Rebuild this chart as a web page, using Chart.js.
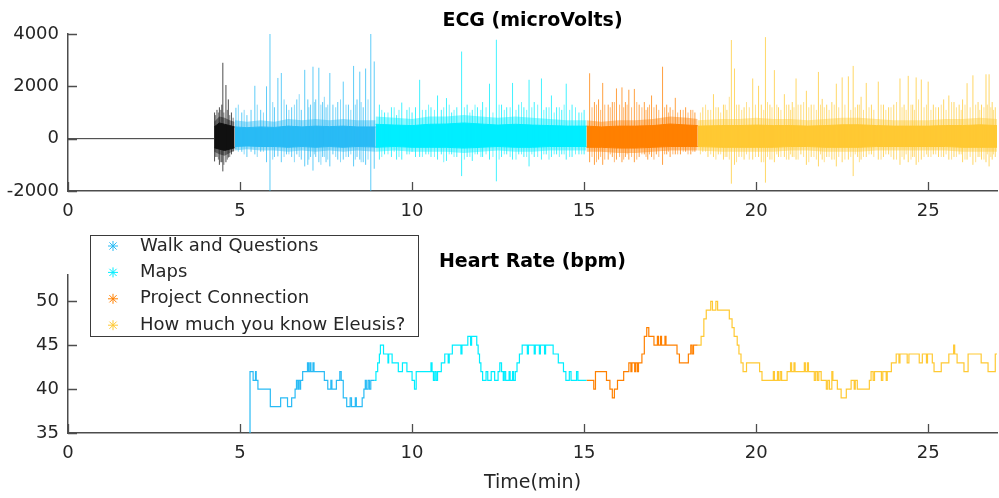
<!DOCTYPE html>
<html>
<head>
<meta charset="utf-8">
<script src="https://cdn.jsdelivr.net/npm/chart.js@4.4.1/dist/chart.umd.min.js"></script>
<style>
  html, body { margin: 0; padding: 0; background: #fff; }
  #wrap { position: relative; width: 999px; height: 498px; }
  #ecg, #hr { position: absolute; left: 0; }
  #ecg { top: 0; }
  #hr { top: 222px; }
</style>
</head>
<body>
<div id="wrap">
  <canvas id="ecg" width="999" height="222"></canvas>
  <canvas id="hr" width="999" height="276"></canvas>
</div>
<script>
// --- categories / colours
const segNames = ['Walk and Questions', 'Maps', 'Project Connection', 'How much you know Eleusis?'];
const segColors = ['#29bbf5', '#00eeff', '#ff8000', '#ffc933'];
const burstColor = '#111111';

// --- tick labels
const timeTicks = [0, 5, 10, 15, 20, 25];
const ecgTicks = [-2000, 0, 2000, 4000];
const hrTicks = [35, 40, 45, 50];

// --- ECG (microVolts), time in minutes
const flatT = [0, 4.25];
const flatV = [0, 0];

// each part: band times, outer envelope (hi/lo), dense core (coreHi/coreLo),
// tall spikes and smaller spikes (minor)
const burstBandT = [4.25, 4.4, 4.55, 4.7, 4.84];
const burstBandHi = [650, 850, 800, 700, 650];
const burstBandLo = [-500, -600, -650, -550, -450];
const burstCoreHi = [450, 600, 550, 500, 450];
const burstCoreLo = [-350, -400, -450, -400, -350];
const burstSpikeT = [4.26, 4.33, 4.4, 4.47, 4.5, 4.59, 4.66, 4.75];
const burstSpikeHi = [1000, 1100, 1200, 1300, 2900, 2050, 1500, 1000];
const burstSpikeLo = [-870, -700, -1000, -900, -1250, -900, -720, -600];
const burstMinorT = [4.29, 4.37, 4.44, 4.53, 4.63, 4.7, 4.8];
const burstMinorHi = [900, 1000, 1100, 1000, 1100, 900, 800];
const burstMinorLo = [-700, -800, -900, -1000, -800, -700, -500];

const walkBandT = [4.85, 5.2, 5.6, 6.0, 6.4, 6.8, 7.2, 7.6, 8.0, 8.4, 8.94];
const walkBandHi = [700, 650, 700, 650, 750, 700, 750, 700, 750, 700, 700];
const walkBandLo = [-450, -400, -450, -450, -500, -450, -500, -450, -500, -450, -500];
const walkCoreHi = [450, 420, 450, 430, 480, 450, 480, 460, 480, 450, 450];
const walkCoreLo = [-300, -280, -300, -300, -330, -300, -330, -300, -330, -300, -320];
const walkSpikeT = [4.88, 5.05, 5.2, 5.32, 5.43, 5.6, 5.77, 5.87, 6.0, 6.1, 6.2, 6.35, 6.5, 6.65, 6.78, 6.88, 6.97, 7.05, 7.12, 7.2, 7.29, 7.4, 7.5, 7.61, 7.7, 7.84, 8.0, 8.15, 8.3, 8.4, 8.48, 8.58, 8.65, 8.8, 8.9];
const walkSpikeHi = [1180, 1000, 900, 1100, 2020, 1100, 2000, 4000, 1200, 2320, 2510, 1300, 1200, 1500, 1100, 2630, 1500, 1300, 2750, 1500, 2710, 1400, 1200, 2510, 1300, 1400, 2180, 1300, 2780, 1500, 2560, 1200, 2680, 4000, 2950];
const walkSpikeLo = [-400, -500, -700, -500, -600, -500, -900, -2000, -700, -680, -900, -600, -700, -600, -800, -1060, -1000, -700, -1220, -700, -900, -700, -900, -1060, -600, -800, -800, -700, -1060, -700, -800, -900, -1000, -2000, -1150];
const walkMinorT = [4.95, 5.12, 5.5, 5.68, 5.95, 6.28, 6.42, 6.58, 6.72, 7.0, 7.16, 7.35, 7.45, 7.55, 7.78, 7.92, 8.08, 8.22, 8.35, 8.52, 8.72];
const walkMinorHi = [1300, 1100, 1300, 1000, 1400, 1500, 1100, 1300, 1700, 1200, 1400, 1300, 1600, 1300, 1200, 1500, 1300, 1100, 1300, 1400, 1500];
const walkMinorLo = [-500, -600, -700, -500, -800, -700, -600, -900, -700, -800, -600, -1000, -700, -800, -700, -900, -700, -600, -800, -900, -800];

const mapsBandT = [8.94, 9.5, 10, 10.5, 11, 11.5, 12, 12.5, 13, 13.5, 14, 14.5, 15.07];
const mapsBandHi = [850, 800, 750, 850, 850, 900, 850, 800, 850, 800, 750, 700, 700];
const mapsBandLo = [-500, -450, -500, -500, -500, -550, -500, -450, -500, -500, -450, -450, -450];
const mapsCoreHi = [550, 520, 500, 550, 560, 600, 560, 520, 550, 520, 500, 480, 480];
const mapsCoreLo = [-330, -300, -330, -330, -330, -360, -330, -300, -330, -330, -300, -300, -300];
const mapsSpikeT = [9.05, 9.2, 9.4, 9.55, 9.7, 9.85, 10.0, 10.1, 10.22, 10.4, 10.55, 10.74, 10.85, 11.0, 11.15, 11.3, 11.44, 11.6, 11.75, 11.9, 12.05, 12.25, 12.45, 12.6, 12.75, 12.92, 13.1, 13.25, 13.4, 13.55, 13.76, 13.9, 14.05, 14.2, 14.35, 14.48, 14.65, 14.85, 15.0];
const mapsSpikeHi = [1300, 1000, 1200, 900, 1380, 1100, 1000, 1200, 2250, 1100, 1200, 1650, 1100, 1550, 1000, 1200, 3330, 1300, 1100, 1200, 1400, 2100, 3780, 1300, 1200, 2130, 1300, 1200, 2250, 1400, 2300, 1200, 1650, 1200, 1100, 2100, 1300, 1000, 1100];
const mapsSpikeLo = [-800, -600, -700, -800, -800, -600, -500, -700, -700, -600, -700, -800, -600, -850, -600, -700, -1430, -700, -850, -600, -700, -800, -1630, -700, -600, -800, -600, -700, -1060, -700, -800, -600, -700, -600, -600, -800, -700, -600, -600];
const mapsMinorT = [9.12, 9.3, 9.48, 9.62, 9.92, 10.3, 10.48, 10.65, 10.92, 11.08, 11.22, 11.52, 11.68, 11.83, 12.0, 12.15, 12.35, 12.53, 12.68, 12.85, 13.02, 13.18, 13.33, 13.48, 13.65, 13.83, 13.98, 14.13, 14.28, 14.42, 14.58, 14.75, 14.93];
const mapsMinorHi = [1100, 1000, 1200, 1100, 1200, 1100, 1300, 1100, 1200, 1300, 1100, 1200, 1000, 1300, 1100, 1200, 1000, 1300, 1100, 1200, 1100, 1400, 1100, 1200, 1300, 1100, 1200, 1000, 1200, 1300, 1100, 1200, 1000];
const mapsMinorLo = [-700, -600, -500, -700, -600, -700, -600, -700, -900, -600, -700, -800, -700, -600, -700, -600, -700, -800, -600, -700, -800, -600, -700, -600, -700, -600, -800, -600, -700, -600, -700, -600, -600];

const projBandT = [15.07, 15.5, 16, 16.5, 17, 17.5, 18, 18.3];
const projBandHi = [700, 650, 700, 700, 750, 850, 800, 750];
const projBandLo = [-500, -500, -550, -550, -500, -450, -450, -450];
const projCoreHi = [480, 450, 480, 480, 500, 560, 520, 500];
const projCoreLo = [-330, -330, -360, -360, -330, -300, -300, -300];
const projSpikeT = [15.16, 15.3, 15.42, 15.54, 15.7, 15.82, 15.94, 16.1, 16.2, 16.3, 16.46, 16.6, 16.75, 16.85, 16.96, 17.1, 17.28, 17.4, 17.5, 17.65, 17.8, 17.95, 18.1, 18.22];
const projSpikeHi = [2500, 1400, 1500, 2130, 1300, 1400, 1920, 1960, 1400, 1870, 1900, 1300, 1400, 1200, 1650, 1300, 2750, 1300, 1200, 1560, 1100, 1200, 1100, 1000];
const projSpikeLo = [-900, -1000, -800, -1000, -800, -700, -800, -900, -700, -800, -900, -700, -600, -800, -700, -600, -1000, -600, -700, -600, -600, -500, -600, -500];
const projMinorT = [15.23, 15.36, 15.48, 15.6, 15.76, 15.88, 16.03, 16.15, 16.25, 16.38, 16.53, 16.68, 16.8, 16.9, 17.03, 17.17, 17.34, 17.45, 17.58, 17.72, 17.88, 18.02, 18.16];
const projMinorHi = [1200, 1300, 1100, 1300, 1200, 1400, 1300, 1200, 1300, 1200, 1400, 1200, 1100, 1300, 1200, 1100, 1200, 1000, 1100, 1000, 1100, 1000, 1100];
const projMinorLo = [-700, -900, -700, -800, -600, -900, -700, -800, -600, -700, -800, -600, -700, -600, -800, -700, -600, -500, -600, -600, -500, -600, -500];

const eleusisBandT = [18.3, 19, 19.5, 20, 20.5, 21, 21.5, 22, 22.5, 23, 23.5, 24, 24.5, 25, 25.5, 26, 26.5, 27];
const eleusisBandHi = [700, 750, 750, 800, 750, 750, 700, 750, 800, 800, 750, 700, 700, 700, 750, 750, 800, 750];
const eleusisBandLo = [-450, -500, -500, -500, -500, -450, -450, -500, -500, -500, -450, -450, -450, -450, -450, -500, -500, -500];
const eleusisCoreHi = [480, 500, 500, 520, 500, 500, 480, 500, 530, 530, 500, 480, 480, 480, 500, 500, 530, 500];
const eleusisCoreLo = [-300, -330, -330, -330, -330, -300, -300, -330, -330, -330, -300, -300, -300, -300, -300, -330, -330, -330];
const eleusisSpikeT = [18.45, 18.6, 18.76, 18.9, 19.05, 19.15, 19.28, 19.37, 19.5, 19.65, 19.9, 20.07, 20.15, 20.27, 20.4, 20.53, 20.65, 20.82, 20.95, 21.05, 21.16, 21.3, 21.46, 21.6, 21.81, 21.92, 22.05, 22.2, 22.33, 22.5, 22.68, 22.82, 22.95, 23.05, 23.2, 23.35, 23.55, 23.7, 23.85, 24.0, 24.18, 24.3, 24.42, 24.55, 24.65, 24.8, 25.0, 25.15, 25.3, 25.45, 25.6, 25.75, 25.9, 26.0, 26.13, 26.3, 26.45, 26.55, 26.68, 26.77, 26.86, 26.95];
const eleusisSpikeHi = [1200, 1100, 1700, 1200, 1300, 1100, 3770, 2680, 1300, 1200, 2300, 2020, 1300, 3880, 1300, 2620, 1200, 1700, 1300, 1400, 2300, 1300, 1830, 1300, 2550, 1520, 1300, 1400, 2100, 2340, 2380, 2780, 1300, 1600, 2130, 1300, 2180, 1300, 1200, 1300, 2300, 1300, 2400, 1300, 2340, 2260, 2180, 1300, 1200, 1500, 1650, 1400, 1300, 1500, 2120, 2420, 1400, 1300, 2460, 2460, 1400, 1200];
const eleusisSpikeLo = [-500, -700, -700, -600, -800, -700, -1720, -1000, -700, -800, -800, -700, -900, -1680, -800, -900, -700, -700, -800, -700, -800, -600, -1000, -700, -1060, -800, -700, -800, -1060, -900, -800, -1430, -700, -800, -700, -600, -800, -700, -600, -800, -1000, -800, -900, -700, -1000, -800, -700, -600, -700, -700, -800, -700, -600, -900, -800, -1000, -700, -800, -900, -1060, -800, -700];
const eleusisMinorT = [18.38, 18.53, 18.68, 18.83, 18.97, 19.1, 19.22, 19.43, 19.58, 19.72, 19.8, 19.98, 20.22, 20.33, 20.46, 20.6, 20.72, 20.88, 21.0, 21.1, 21.22, 21.38, 21.53, 21.68, 21.75, 21.87, 21.98, 22.12, 22.27, 22.4, 22.58, 22.75, 22.88, 23.0, 23.12, 23.28, 23.42, 23.63, 23.77, 23.92, 24.08, 24.24, 24.36, 24.5, 24.6, 24.72, 24.88, 24.95, 25.08, 25.22, 25.38, 25.52, 25.68, 25.82, 25.96, 26.07, 26.22, 26.38, 26.5, 26.62, 26.72, 26.82, 26.9];
const eleusisMinorHi = [1000, 1300, 1100, 1200, 1000, 1300, 1600, 1300, 1100, 1400, 1200, 1300, 1100, 1400, 1200, 1300, 1100, 1300, 1100, 1200, 1300, 1400, 1200, 1300, 1100, 1300, 1200, 1100, 1300, 1200, 1300, 1100, 1200, 1300, 1100, 1200, 1100, 1300, 1100, 1200, 1400, 1200, 1100, 1300, 1100, 1500, 1200, 1300, 1100, 1200, 1300, 1100, 1400, 1200, 1100, 1300, 1200, 1300, 1100, 1200, 1300, 1200, 1100];
const eleusisMinorLo = [-600, -500, -600, -800, -600, -700, -800, -900, -700, -600, -800, -700, -900, -700, -800, -600, -700, -800, -600, -700, -800, -700, -900, -700, -800, -600, -900, -700, -800, -700, -800, -700, -600, -900, -700, -600, -700, -800, -600, -700, -800, -700, -600, -800, -700, -900, -700, -600, -700, -600, -700, -600, -800, -700, -600, -800, -700, -900, -700, -800, -600, -700, -600];

// --- Heart rate (bpm): value holds from each time until the next one
const walkHrT = [5.28, 5.29, 5.38, 5.45, 5.47, 5.52, 5.88, 6.18, 6.38, 6.5, 6.6, 6.64, 6.68, 6.7, 6.74, 6.76, 6.82, 6.96, 6.99, 7.03, 7.06, 7.12, 7.15, 7.45, 7.55, 7.64, 7.67, 7.8, 7.9, 7.94, 8.0, 8.1, 8.2, 8.24, 8.35, 8.38, 8.55, 8.6, 8.64, 8.67, 8.72, 8.76, 8.8, 8.9];
const walkHrV = [35, 42, 41, 42, 41, 40, 38, 39, 38, 39, 40, 41, 40, 41, 40, 41, 42, 43, 42, 43, 42, 43, 42, 41, 40, 41, 40, 41, 42, 41, 39, 38, 39, 38, 39, 38, 39, 40, 41, 40, 41, 40, 41, 41];

const mapsHrT = [8.9, 8.95, 9.0, 9.05, 9.08, 9.17, 9.3, 9.32, 9.42, 9.6, 9.72, 9.85, 10.0, 10.07, 10.12, 10.55, 10.58, 10.62, 10.66, 10.7, 10.74, 10.85, 10.95, 11.05, 11.08, 11.17, 11.42, 11.45, 11.62, 11.7, 11.73, 11.88, 11.92, 11.96, 12.0, 12.05, 12.15, 12.2, 12.3, 12.4, 12.5, 12.55, 12.6, 12.65, 12.68, 12.72, 12.82, 12.85, 12.92, 12.95, 13.0, 13.05, 13.12, 13.2, 13.35, 13.38, 13.55, 13.58, 13.7, 13.73, 13.85, 13.88, 14.1, 14.25, 14.4, 14.47, 14.57, 14.62, 14.78, 14.82, 15.07];
const mapsHrV = [41, 42, 43, 44, 45, 44, 43, 44, 43, 42, 43, 42, 41, 40, 42, 43, 42, 41, 42, 41, 42, 43, 44, 43, 44, 45, 44, 45, 46, 45, 46, 45, 44, 43, 42, 41, 42, 41, 42, 41, 42, 43, 42, 41, 42, 41, 42, 41, 42, 41, 42, 43, 44, 45, 44, 45, 44, 45, 44, 45, 44, 45, 44, 43, 42, 41, 42, 41, 42, 41, 41];

const projHrT = [15.07, 15.28, 15.33, 15.65, 15.75, 15.82, 15.88, 15.97, 16.15, 16.3, 16.36, 16.39, 16.47, 16.5, 16.55, 16.58, 16.68, 16.75, 16.82, 16.88, 17.03, 17.13, 17.16, 17.22, 17.25, 17.35, 17.38, 17.7, 17.77, 18.03, 18.1, 18.14, 18.18, 18.3];
const projHrV = [41, 40, 42, 41, 40, 39, 40, 41, 42, 43, 42, 43, 42, 43, 42, 43, 44, 46, 47, 46, 45, 46, 45, 46, 45, 46, 45, 44, 43, 44, 45, 44, 45, 45];

const eleusisHrT = [18.3, 18.4, 18.48, 18.55, 18.68, 18.73, 18.83, 18.88, 19.22, 19.3, 19.36, 19.45, 19.5, 19.56, 19.62, 19.72, 20.1, 20.17, 20.5, 20.53, 20.62, 20.65, 20.7, 20.74, 20.9, 21.0, 21.03, 21.1, 21.13, 21.4, 21.43, 21.49, 21.52, 21.69, 21.73, 21.78, 21.82, 21.89, 22.04, 22.08, 22.13, 22.2, 22.23, 22.36, 22.47, 22.62, 22.76, 22.85, 22.88, 22.94, 23.29, 23.34, 23.4, 23.44, 23.64, 23.68, 23.78, 23.81, 23.93, 24.07, 24.15, 24.18, 24.39, 24.44, 24.74, 24.83, 24.95, 24.98, 25.12, 25.17, 25.38, 25.6, 25.74, 25.77, 25.84, 26.04, 26.16, 26.54, 26.74, 26.95, 27];
const eleusisHrV = [45, 46, 48, 49, 50, 49, 50, 49, 48, 47, 46, 45, 44, 43, 42, 43, 42, 41, 42, 41, 42, 41, 42, 41, 42, 43, 42, 43, 42, 43, 42, 43, 42, 41, 42, 41, 42, 41, 40, 41, 40, 42, 41, 40, 39, 40, 41, 40, 41, 40, 41, 42, 41, 42, 41, 42, 41, 42, 43, 44, 43, 44, 43, 44, 43, 44, 43, 44, 43, 42, 43, 44, 45, 44, 43, 42, 44, 43, 42, 44, 44];

// --- helpers
const axisColor = '#4d4d4d';
const textColor = '#262626';
const fontFamily = "'DejaVu Sans', sans-serif";
Chart.defaults.font.family = fontFamily;
Chart.defaults.color = textColor;

const pts = (t, v) => t.map((x, i) => ({ x, y: v[i] }));

function spikePts(t, hi, lo) {
  const out = [];
  t.forEach((x, i) => out.push({ x, y: lo[i] }, { x, y: hi[i] }, { x, y: null }));
  return out;
}

function fade(hex, a) {
  const n = parseInt(hex.slice(1), 16);
  return `rgba(${n >> 16},${(n >> 8) & 255},${n & 255},${a})`;
}

function line(data, color, extra) {
  return Object.assign({ data, borderColor: color, backgroundColor: color, borderWidth: 1,
    pointRadius: 0, tension: 0, fill: false, spanGaps: false }, extra || {});
}

function ecgPart(p, color) {
  const soft = fade(color, 0.45);
  return [
    line(spikePts(p.spikeT, p.spikeHi, p.spikeLo), fade(color, 0.75)),
    line(spikePts(p.minorT, p.minorHi, p.minorLo), fade(color, 0.55)),
    line(pts(p.bandT, p.coreLo), color),
    line(pts(p.bandT, p.coreHi), color, { fill: '-1' }),
    line(pts(p.bandT, p.bandLo), soft, { borderWidth: 0 }),
    line(pts(p.bandT, p.bandHi), soft, { borderWidth: 0, fill: '-1' })
  ];
}

const ticksFrom = arr => scale => { scale.ticks = arr.map(value => ({ value })); };

function xAxis(height, extra) {
  return Object.assign({
    type: 'linear', min: 0, max: 27,
    afterBuildTicks: ticksFrom(timeTicks),
    afterFit: s => { s.height = height; },
    grid: { display: false, drawTicks: false },
    border: { display: true, color: axisColor, width: 1.5 },
    ticks: { font: { size: 18 }, padding: 10, maxRotation: 0, autoSkip: false, color: textColor }
  }, extra || {});
}

function yAxis(min, max, tickList) {
  return {
    type: 'linear', min, max,
    afterBuildTicks: ticksFrom(tickList),
    afterFit: s => { s.width = 68; },
    grid: { display: false, drawTicks: false },
    border: { display: true, color: axisColor, width: 1.5 },
    ticks: { font: { size: 18 }, padding: 9, autoSkip: false, color: textColor, callback: v => String(v) }
  };
}

// MATLAB-style ticks pointing into the plot
const inwardTicks = {
  id: 'inwardTicks',
  afterDraw(chart) {
    const { ctx, chartArea, scales } = chart;
    ctx.save();
    ctx.strokeStyle = axisColor;
    ctx.lineWidth = 1.3;
    ctx.beginPath();
    scales.x.ticks.forEach(t => {
      const px = Math.round(scales.x.getPixelForValue(t.value)) + 0.5;
      ctx.moveTo(px, chartArea.bottom);
      ctx.lineTo(px, chartArea.bottom - 9);
    });
    scales.y.ticks.forEach(t => {
      const py = Math.round(scales.y.getPixelForValue(t.value)) + 0.5;
      ctx.moveTo(chartArea.left, py);
      ctx.lineTo(chartArea.left + 9, py);
    });
    ctx.stroke();
    ctx.restore();
  }
};

// bold title centred over the plot area (not the whole canvas)
const plotTitle = {
  id: 'plotTitle',
  afterDraw(chart, args, opts) {
    const { ctx, chartArea } = chart;
    ctx.save();
    ctx.font = `bold 19px ${fontFamily}`;
    ctx.fillStyle = '#000';
    ctx.textAlign = 'center';
    ctx.textBaseline = 'middle';
    ctx.fillText(opts.text, (chartArea.left + chartArea.right) / 2, opts.y);
    ctx.restore();
  }
};

function drawStar(ctx, x, y, r, color) {
  ctx.strokeStyle = color;
  ctx.lineWidth = 1;
  ctx.beginPath();
  ctx.moveTo(x - r, y); ctx.lineTo(x + r, y);
  ctx.moveTo(x, y - r); ctx.lineTo(x, y + r);
  const d = r * 0.72;
  ctx.moveTo(x - d, y - d); ctx.lineTo(x + d, y + d);
  ctx.moveTo(x - d, y + d); ctx.lineTo(x + d, y - d);
  ctx.stroke();
}

const hrLegend = {
  id: 'hrLegend',
  afterDraw(chart) {
    const ctx = chart.ctx;
    ctx.save();
    ctx.fillStyle = '#fff';
    ctx.fillRect(90.5, 13.5, 328, 101);
    ctx.strokeStyle = '#3a3a3a';
    ctx.lineWidth = 1;
    ctx.strokeRect(90.5, 13.5, 328, 101);
    ctx.font = `18px ${fontFamily}`;
    ctx.textBaseline = 'middle';
    segNames.forEach((name, i) => {
      const y = 24 + i * 26.4;
      drawStar(ctx, 113, y, 5, segColors[i]);
      ctx.fillStyle = textColor;
      ctx.fillText(name, 140, y);
    });
    ctx.restore();
  }
};

const baseOptions = (padTop, titleText, titleY) => ({
  responsive: false,
  animation: false,
  devicePixelRatio: 1,
  events: [],
  layout: { padding: { left: 0, right: 2, top: padTop, bottom: 0 } },
  plugins: {
    legend: { display: false },
    tooltip: { enabled: false },
    title: { display: false },
    plotTitle: { text: titleText, y: titleY }
  }
});

// --- ECG chart
const part = (bandT, bandHi, bandLo, coreHi, coreLo, spikeT, spikeHi, spikeLo, minorT, minorHi, minorLo) =>
  ({ bandT, bandHi, bandLo, coreHi, coreLo, spikeT, spikeHi, spikeLo, minorT, minorHi, minorLo });

new Chart(document.getElementById('ecg'), {
  type: 'line',
  data: {
    datasets: [
      line(pts(flatT, flatV), '#333333'),
      ...ecgPart(part(burstBandT, burstBandHi, burstBandLo, burstCoreHi, burstCoreLo, burstSpikeT, burstSpikeHi, burstSpikeLo, burstMinorT, burstMinorHi, burstMinorLo), burstColor),
      ...ecgPart(part(walkBandT, walkBandHi, walkBandLo, walkCoreHi, walkCoreLo, walkSpikeT, walkSpikeHi, walkSpikeLo, walkMinorT, walkMinorHi, walkMinorLo), segColors[0]),
      ...ecgPart(part(mapsBandT, mapsBandHi, mapsBandLo, mapsCoreHi, mapsCoreLo, mapsSpikeT, mapsSpikeHi, mapsSpikeLo, mapsMinorT, mapsMinorHi, mapsMinorLo), segColors[1]),
      ...ecgPart(part(projBandT, projBandHi, projBandLo, projCoreHi, projCoreLo, projSpikeT, projSpikeHi, projSpikeLo, projMinorT, projMinorHi, projMinorLo), segColors[2]),
      ...ecgPart(part(eleusisBandT, eleusisBandHi, eleusisBandLo, eleusisCoreHi, eleusisCoreLo, eleusisSpikeT, eleusisSpikeHi, eleusisSpikeLo, eleusisMinorT, eleusisMinorHi, eleusisMinorLo), segColors[3])
    ]
  },
  options: Object.assign(baseOptions(34, 'ECG (microVolts)', 21), {
    scales: {
      x: xAxis(31),
      y: yAxis(-2000, 4000, ecgTicks)
    }
  }),
  plugins: [inwardTicks, plotTitle]
});

// --- Heart rate chart
const hrSets = [
  [walkHrT, walkHrV], [mapsHrT, mapsHrV], [projHrT, projHrV], [eleusisHrT, eleusisHrV]
].map(([t, v], i) => line(pts(t, v), segColors[i], { stepped: true, borderWidth: 1.2, label: segNames[i] }));

new Chart(document.getElementById('hr'), {
  type: 'line',
  data: { datasets: hrSets },
  options: Object.assign(baseOptions(53, 'Heart Rate (bpm)', 40), {
    scales: {
      x: xAxis(65, { title: { display: true, text: 'Time(min)', color: textColor,
        font: { size: 19 }, padding: { top: 0, bottom: 3.6 } } }),
      y: yAxis(35, 53, hrTicks)
    }
  }),
  plugins: [inwardTicks, plotTitle, hrLegend]
});
</script>
</body>
</html>
